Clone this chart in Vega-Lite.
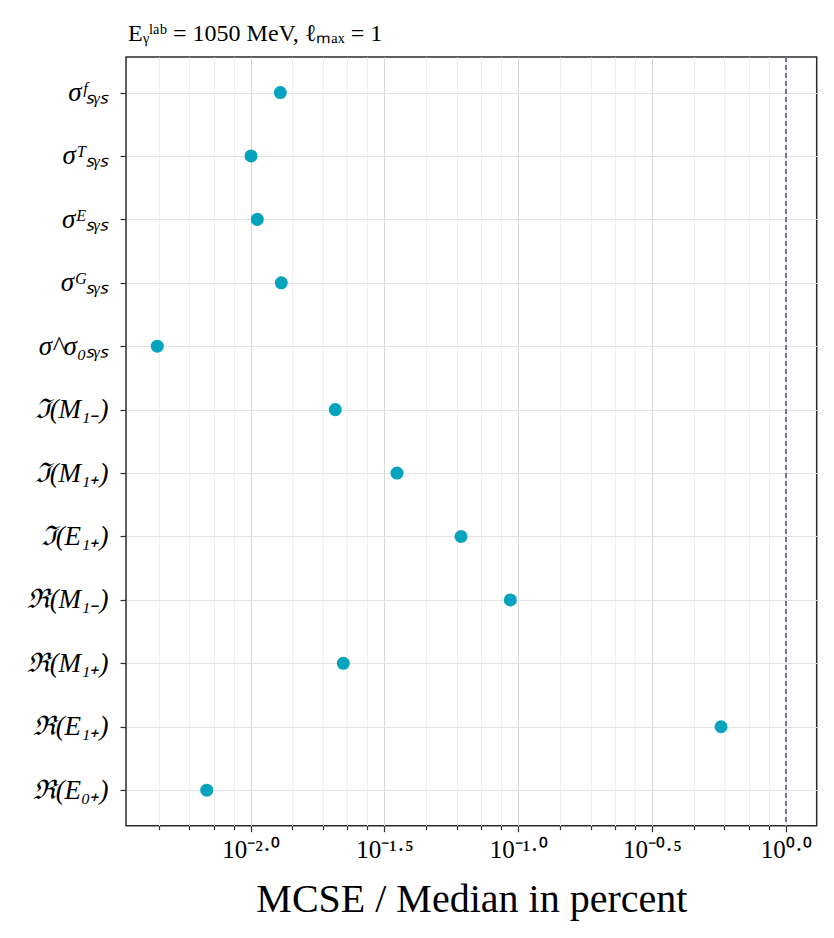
{
  "$schema": "https://vega.github.io/schema/vega-lite/v6.json",
  "autosize": {"type": "none"},
  "width": 690.7,
  "height": 768.7,
  "padding": {"left": 126, "top": 57, "right": 17.3, "bottom": 112.3},
  "background": "white",
  "title": {
    "text": "Eᵧˡᵃᵇ = 1050 MeV, ℓₘₐₓ = 1",
    "anchor": "start",
    "frame": "group",
    "baseline": "alphabetic",
    "offset": -9,
    "dx": 2,
    "font": "Liberation Serif",
    "fontSize": 24,
    "fontWeight": "normal",
    "color": "#000000"
  },
  "config": {
    "view": {"stroke": "#2b2b2b", "strokeWidth": 1.5},
    "title": {"font": "Liberation Serif"},
    "axis": {"domain": false, "tickColor": "#2b2b2b", "tickWidth": 1.2, "labelColor": "#000000", "titleColor": "#000000"}
  },
  "data": {
    "values": [
      {"label": "σᶠₛᵧₛ", "value": 0.01290},
      {"label": "σᵀₛᵧₛ", "value": 0.010025},
      {"label": "σᴱₛᵧₛ", "value": 0.01058},
      {"label": "σᴳₛᵧₛ", "value": 0.01301},
      {"label": "σ^σ₀ₛᵧₛ", "value": 0.004475},
      {"label": "ℑ(M₁₋)", "value": 0.02071},
      {"label": "ℑ(M₁₊)", "value": 0.03522},
      {"label": "ℑ(E₁₊)", "value": 0.06110},
      {"label": "ℜ(M₁₋)", "value": 0.09343},
      {"label": "ℜ(M₁₊)", "value": 0.02219},
      {"label": "ℜ(E₁₊)", "value": 0.5729},
      {"label": "ℜ(E₀₊)", "value": 0.006849}
    ]
  },
  "layer": [
    {
      "mark": {"type": "circle", "size": 170, "opacity": 1, "color": "#05a3bd"},
      "encoding": {
        "x": {
          "field": "value",
          "type": "quantitative",
          "scale": {"type": "log", "domain": [0.003418, 1.3047], "nice": false, "zero": false},
          "axis": {
            "values": [0.0045298, 0.0058973, 0.0072649, 0.0086324, 0.01, 0.0143246, 0.0186491, 0.0229737, 0.0272982, 0.0316228, 0.0452982, 0.0589737, 0.0726491, 0.0863246, 0.1, 0.143246, 0.186491, 0.229737, 0.272982, 0.316228, 0.452982, 0.589737, 0.726491, 0.863246, 1],
            "labelExpr": "abs(datum.value-1)<0.001 ? '10⁰·⁰' : abs(datum.value-0.316228)<0.0001 ? '10⁻⁰·⁵' : abs(datum.value-0.1)<0.0001 ? '10⁻¹·⁰' : abs(datum.value-0.0316228)<0.00001 ? '10⁻¹·⁵' : abs(datum.value-0.01)<0.00001 ? '10⁻²·⁰' : ''",
            "labelOverlap": false,
            "labelFlush": false,
            "labelFont": "Liberation Serif",
            "labelFontSize": 25,
            "labelPadding": 6,
            "grid": true,
            "gridColor": {"condition": {"test": "abs(log(datum.value)/LN10*2 - round(log(datum.value)/LN10*2)) < 0.001", "value": "#d9d9d9"}, "value": "#eeeeee"},
            "gridWidth": 1,
            "tickSize": {"condition": {"test": "abs(log(datum.value)/LN10*2 - round(log(datum.value)/LN10*2)) < 0.001", "value": 6}, "value": 4},
            "title": "MCSE / Median in percent",
            "titleFont": "Liberation Serif",
            "titleFontSize": 40,
            "titleFontWeight": "normal",
            "titlePadding": 17
          }
        },
        "y": {
          "field": "label",
          "type": "nominal",
          "sort": null,
          "scale": {"type": "point", "padding": 0.56},
          "axis": {
            "title": null,
            "labelFont": "Liberation Serif",
            "labelFontSize": 27,
            "labelFontStyle": "italic",
            "labelPadding": 12,
            "tickSize": 6,
            "grid": true,
            "gridColor": "#e2e2e2",
            "gridWidth": 1
          }
        }
      }
    },
    {
      "mark": {"type": "rule", "color": "#6f7b90", "strokeDash": [5, 3], "strokeWidth": 1.4},
      "encoding": {"x": {"datum": 1, "type": "quantitative"}}
    }
  ]
}
